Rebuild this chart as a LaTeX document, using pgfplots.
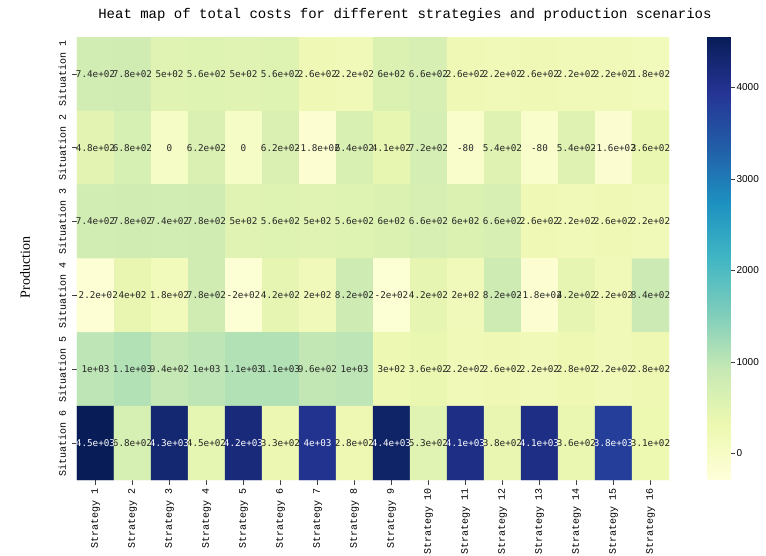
\documentclass[border=0pt]{standalone}
\usepackage{pgfplots}
\pgfplotsset{compat=1.18}
\usepackage{pgfplotstable}
\usepackage{fontspec}
\setmainfont{Liberation Serif}
\newfontfamily\monof{Liberation Mono}
\newfontfamily\annf{DejaVu Sans Mono}
\newfontfamily\sansf{Liberation Sans}

\pgfplotstableread{
x y z label d
0 0 740 7.4e+02 0
1 0 780 7.8e+02 0
2 0 500 5e+02 0
3 0 560 5.6e+02 0
4 0 500 5e+02 0
5 0 560 5.6e+02 0
6 0 260 2.6e+02 0
7 0 220 2.2e+02 0
8 0 600 6e+02 0
9 0 660 6.6e+02 0
10 0 260 2.6e+02 0
11 0 220 2.2e+02 0
12 0 260 2.6e+02 0
13 0 220 2.2e+02 0
14 0 220 2.2e+02 0
15 0 180 1.8e+02 0
0 1 480 4.8e+02 0
1 1 680 6.8e+02 0
2 1 0 0 0
3 1 620 6.2e+02 0
4 1 0 0 0
5 1 620 6.2e+02 0
6 1 -180 -1.8e+02 0
7 1 640 6.4e+02 0
8 1 410 4.1e+02 0
9 1 720 7.2e+02 0
10 1 -80 -80 0
11 1 540 5.4e+02 0
12 1 -80 -80 0
13 1 540 5.4e+02 0
14 1 -160 -1.6e+02 0
15 1 360 3.6e+02 0
0 2 740 7.4e+02 0
1 2 780 7.8e+02 0
2 2 740 7.4e+02 0
3 2 780 7.8e+02 0
4 2 500 5e+02 0
5 2 560 5.6e+02 0
6 2 500 5e+02 0
7 2 560 5.6e+02 0
8 2 600 6e+02 0
9 2 660 6.6e+02 0
10 2 600 6e+02 0
11 2 660 6.6e+02 0
12 2 260 2.6e+02 0
13 2 220 2.2e+02 0
14 2 260 2.6e+02 0
15 2 220 2.2e+02 0
0 3 -220 -2.2e+02 0
1 3 400 4e+02 0
2 3 180 1.8e+02 0
3 3 780 7.8e+02 0
4 3 -200 -2e+02 0
5 3 420 4.2e+02 0
6 3 200 2e+02 0
7 3 820 8.2e+02 0
8 3 -200 -2e+02 0
9 3 420 4.2e+02 0
10 3 200 2e+02 0
11 3 820 8.2e+02 0
12 3 -180 -1.8e+02 0
13 3 420 4.2e+02 0
14 3 220 2.2e+02 0
15 3 840 8.4e+02 0
0 4 1000 1e+03 0
1 4 1100 1.1e+03 0
2 4 940 9.4e+02 0
3 4 1000 1e+03 0
4 4 1100 1.1e+03 0
5 4 1100 1.1e+03 0
6 4 960 9.6e+02 0
7 4 1000 1e+03 0
8 4 300 3e+02 0
9 4 360 3.6e+02 0
10 4 220 2.2e+02 0
11 4 260 2.6e+02 0
12 4 220 2.2e+02 0
13 4 280 2.8e+02 0
14 4 220 2.2e+02 0
15 4 280 2.8e+02 0
0 5 4550 4.5e+03 1
1 5 680 6.8e+02 0
2 5 4300 4.3e+03 1
3 5 450 4.5e+02 0
4 5 4200 4.2e+03 1
5 5 330 3.3e+02 0
6 5 4000 4e+03 1
7 5 280 2.8e+02 0
8 5 4400 4.4e+03 1
9 5 530 5.3e+02 0
10 5 4100 4.1e+03 1
11 5 380 3.8e+02 0
12 5 4100 4.1e+03 1
13 5 360 3.6e+02 0
14 5 3800 3.8e+03 1
15 5 310 3.1e+02 0
}\heat

\begin{document}
\begin{tikzpicture}
\path[use as bounding box] (0,0) rectangle (766pt,556pt);
\begin{axis}[
  at={(77pt,76pt)}, anchor=south west,
  scale only axis, width=592pt, height=443pt,
  xmin=-0.5, xmax=15.5, ymin=-0.5, ymax=5.5, y dir=reverse,
  enlargelimits=false,
  axis line style={draw=none},
  tick pos=left, tick align=outside, major tick length=4.5pt,
  tick style={black!75, line width=0.7pt},
  xtick={0,...,15},
  xticklabels={Strategy 1,Strategy 2,Strategy 3,Strategy 4,Strategy 5,Strategy 6,Strategy 7,Strategy 8,Strategy 9,Strategy 10,Strategy 11,Strategy 12,Strategy 13,Strategy 14,Strategy 15,Strategy 16},
  xticklabel style={rotate=90, anchor=east, font=\monof\fontsize{10}{12}\selectfont},
  ytick={0,...,5},
  yticklabels={Situation 1,Situation 2,Situation 3,Situation 4,Situation 5,Situation 6},
  yticklabel style={rotate=90, anchor=south, yshift=3pt, font=\monof\fontsize{10}{12}\selectfont},
  ylabel={Production},
  ylabel style={at={(axis description cs:-0.0878,0.48)}, anchor=center, font=\fontsize{14}{16}\selectfont},
  title={Heat map of total costs for different strategies and production scenarios},
  title style={at={(axis description cs:0.554,1)}, anchor=base, yshift=13pt, font=\monof\fontsize{14}{16}\selectfont},
  colormap={ylgnbu}{rgb255=(255,255,217) rgb255=(237,248,177) rgb255=(199,233,180) rgb255=(127,205,187) rgb255=(65,182,196) rgb255=(29,145,192) rgb255=(34,94,168) rgb255=(37,52,148) rgb255=(8,29,88)},
  point meta min=-290, point meta max=4550,
  colorbar,
  colorbar/width=23pt,
  colorbar style={
    at={(parent axis.north east)}, anchor=north west, xshift=30pt,
    scale only axis,
    width=23pt,
    ytick={0,1000,2000,3000,4000},
    scaled y ticks=false,
    axis line style={draw=none},
    tick align=outside, major tick length=4pt,
    tick style={black!75, line width=0.7pt},
    ytick pos=right,
    /pgf/number format/1000 sep={},
    /pgf/number format/assume math mode=true,
    yticklabel style={font=\sansf\fontsize{10}{12}\selectfont, xshift=-1.5pt},
  },
]
\addplot[matrix plot*, mesh/cols=16, mesh/rows=6, point meta=explicit]
  table[x=x, y=y, meta=z] {\heat};
\addplot[only marks, mark=none, point meta=explicit symbolic,
  restrict expr to domain={\thisrow{d}}{0:0},
  nodes near coords,
  nodes near coords style={anchor=center, inner sep=0pt, text=black!85, font=\annf\fontsize{9.3}{10}\selectfont}]
  table[x=x, y=y, meta=label] {\heat};
\addplot[only marks, mark=none, point meta=explicit symbolic,
  restrict expr to domain={\thisrow{d}}{1:1},
  nodes near coords,
  nodes near coords style={anchor=center, inner sep=0pt, text=white, font=\annf\fontsize{9.3}{10}\selectfont}]
  table[x=x, y=y, meta=label] {\heat};
\end{axis}
\end{tikzpicture}
\end{document}
